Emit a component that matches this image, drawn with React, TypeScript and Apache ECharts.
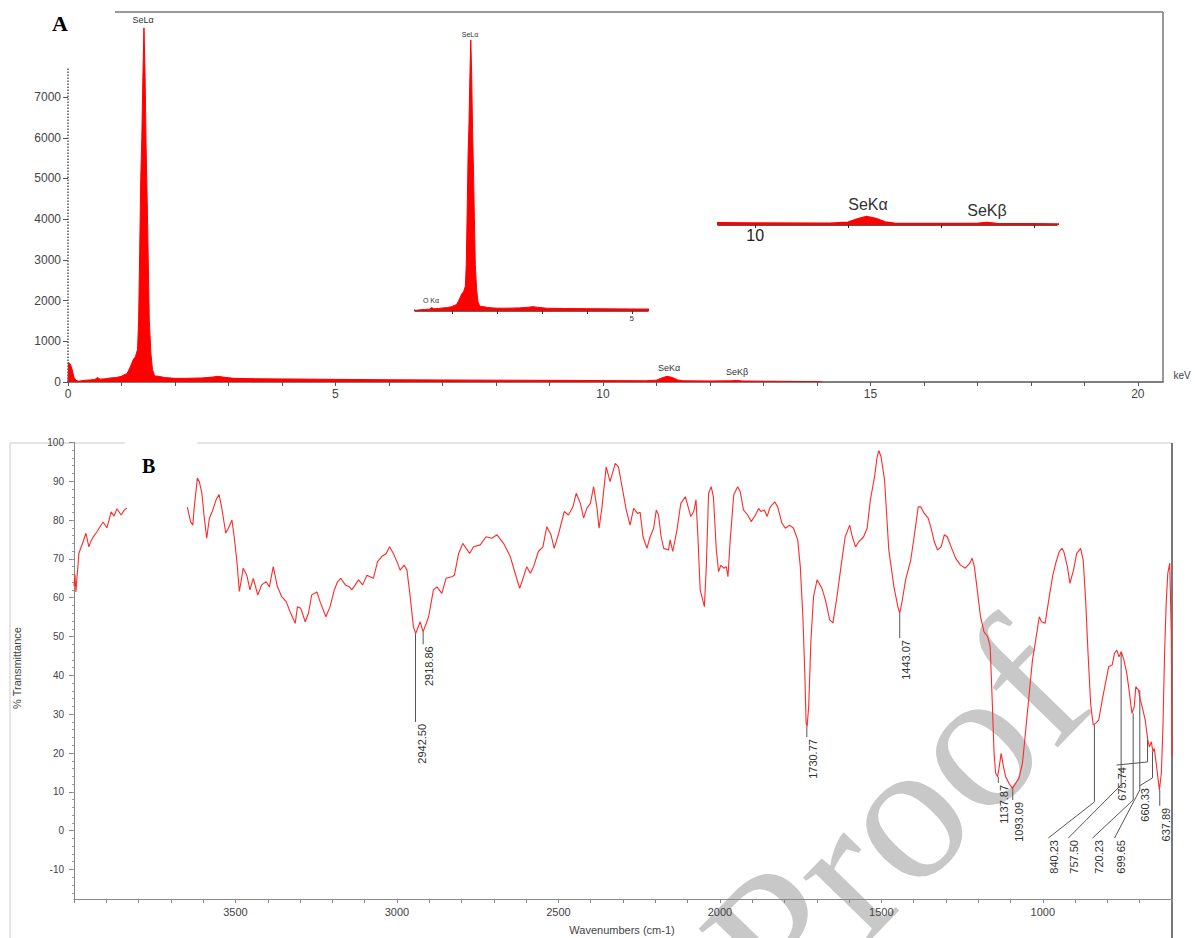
import React, { useEffect, useRef } from "react";
import * as echarts from "echarts";

// ---------- Panel A: EDS spectrum ----------
const edsKeV = [
  0.0, 0.01, 0.03, 0.05, 0.08, 0.11, 0.15, 0.2, 0.3, 0.4, 0.5, 0.55, 0.6, 0.7, 0.8, 0.9, 1.0,
  1.05, 1.1, 1.14, 1.18, 1.22, 1.26, 1.3, 1.32, 1.34, 1.36, 1.38, 1.4, 1.42, 1.44, 1.46, 1.48,
  1.5, 1.52, 1.55, 1.58, 1.62, 1.7, 1.8, 2.0, 2.2, 2.5, 2.7, 2.8, 2.9, 3.1, 3.5, 4.0, 5.0, 6.0,
  7.0, 8.0, 9.0, 10.0, 10.8, 11.0, 11.1, 11.2, 11.3, 11.4, 11.5, 12.0, 12.4, 12.5, 12.6, 13.0,
  13.5, 14.0, 14.1,
];
const edsCounts = [
  0, 480, 460, 420, 300, 120, 40, 20, 40, 50, 60, 110, 70, 80, 100, 110, 140,
  180, 200, 300, 420, 550, 620, 800, 1500, 3200, 5000, 6000, 7500, 8700, 7600, 5800, 4500,
  3000, 1500, 700, 300, 150, 140, 110, 90, 90, 100, 120, 140, 120, 90, 80, 75, 65, 55,
  50, 45, 40, 35, 30, 45, 100, 140, 110, 50, 30, 25, 30, 40, 25, 20,
  15, 10, 0,
];
const edsXTicks = [0, 1, 2, 3, 4, 5, 6, 7, 8, 9, 10, 11, 12, 13, 14, 15, 16, 17, 18, 19, 20];
const edsXLabels = [0, 5, 10, 15, 20];
const edsYLabels = [0, 1000, 2000, 3000, 4000, 5000, 6000, 7000];
const inset1Ticks = [1, 2, 3, 4, 5];
const inset1Labels = [5];
const inset2Ticks = [10, 11, 12, 13];
const inset2Labels = [10];

// ---------- Panel B: FTIR spectrum ----------
const ftirWn = [
  4000, 3997, 3994, 3991, 3987, 3985, 3978, 3972, 3963, 3954, 3948, 3941, 3929, 3920, 3910, 3898,
  3885, 3876, 3867, 3854, 3845, 3836, 3740,
  3649, 3639, 3632, 3628, 3618, 3612, 3604, 3597, 3589, 3581, 3572, 3560, 3551, 3543, 3530, 3521,
  3511, 3504, 3496, 3488, 3476, 3465, 3455, 3445, 3431, 3419, 3405, 3395, 3383, 3370, 3357, 3343,
  3331, 3315, 3308, 3298, 3284, 3274, 3264, 3248, 3238, 3220, 3207, 3194, 3184, 3174, 3160, 3147,
  3140, 3129, 3119, 3106, 3093, 3083, 3073, 3060, 3047, 3033, 3023, 3011, 3000, 2990, 2978, 2969,
  2959, 2949, 2942, 2928, 2919, 2902, 2887, 2876, 2861, 2848, 2830, 2822, 2809, 2796, 2775, 2763,
  2742, 2724, 2706, 2690, 2670, 2649, 2634, 2620, 2608, 2598, 2587, 2577, 2562, 2548, 2536, 2523,
  2513, 2499, 2482, 2469, 2455, 2445, 2432, 2422, 2412, 2401, 2391, 2381, 2374, 2365, 2352, 2340,
  2324, 2314, 2303, 2290, 2278, 2267, 2255, 2247, 2238, 2226, 2216, 2205, 2197, 2190, 2182, 2174,
  2159, 2154, 2146, 2133, 2121, 2107, 2100, 2090, 2081, 2074, 2068, 2061, 2048, 2042, 2035, 2027,
  2020, 2011, 2004, 1997, 1988, 1980, 1975, 1968, 1957, 1945, 1937, 1927, 1914, 1903, 1890, 1880,
  1873, 1862, 1854, 1844, 1830, 1821, 1808, 1797, 1784, 1772, 1759, 1751, 1743, 1737, 1733, 1730,
  1725, 1718, 1710, 1699, 1684, 1673, 1660, 1650, 1637, 1625, 1612, 1598, 1590, 1580, 1570, 1555,
  1544, 1534, 1521, 1513, 1508, 1501, 1490, 1477, 1461, 1449, 1443, 1435, 1425, 1409, 1397, 1386,
  1378, 1367, 1355, 1346, 1336, 1326, 1315, 1305, 1296, 1284, 1270, 1255, 1240, 1226, 1219, 1212,
  1203, 1193, 1182, 1171, 1163, 1156, 1151, 1146, 1140, 1135, 1129, 1122, 1115, 1105, 1094, 1084,
  1074, 1063, 1053, 1042, 1032, 1022, 1011, 1004, 993, 980, 970, 960, 949, 941, 935, 924,
  916, 905, 895, 883, 875, 867, 860, 852, 844, 836, 827, 816, 806, 796, 785, 778,
  771, 764, 757, 749, 740, 733, 724, 717, 712, 704, 698, 690, 683, 675, 670, 664,
  659, 655, 649, 644, 639, 633, 628, 623, 618, 613, 607, 602, 600,
];
const ftirT = [
  63, 66, 61.5, 65, 69, 71.4, 73, 74.4, 76.6, 73.1, 74.5, 75.6, 77, 78.2, 79.5, 78,
  82.1, 81, 82.9, 81.3, 82.5, 83.1, null,
  83.3, 79.6, 78.7, 83.0, 90.8, 89.9, 86.9, 80.9, 75.3, 80.4, 82.2, 85.2, 86.6, 83.4, 76.6, 78.1,
  80.0, 75.7, 69.7, 61.6, 67.6, 65.8, 62.0, 65.0, 60.7, 63.3, 64.1, 62.8, 68.0, 62.8, 60.3, 59.0,
  56.4, 53.4, 57.7, 57.3, 53.8, 56.0, 60.7, 61.5, 59.0, 55.1, 57.7, 62.0, 64.1, 65.0, 63.3, 62.8,
  62.0, 63.3, 64.6, 63.3, 65.8, 65.4, 65.0, 69.3, 70.6, 71.4, 73.1, 71.4, 69.3, 67.1, 68.4, 67.1,
  60.3, 52.5, 50.8, 53.8, 51.2, 55.1, 62.0, 62.8, 61.1, 65.0, 65.4, 65.8, 71.4, 74.0, 71.4, 73.1,
  73.6, 75.7, 75.3, 76.2, 74.0, 70.6, 66.3, 62.4, 65.4, 68.0, 66.3, 68.0, 71.9, 73.1, 78.3, 76.2,
  72.7, 76.6, 82.2, 81.3, 83.4, 86.9, 84.3, 80.5, 83.0, 84.3, 88.6, 83.4, 77.9, 83.4, 93.7, 89.9,
  94.6, 93.7, 88.6, 82.6, 78.7, 83.0, 81.7, 82.0, 75.7, 72.7, 75.7, 77.9, 82.6, 81.3, 75.7, 72.7,
  72.3, 74.9, 71.9, 77.4, 84.3, 86.0, 83.9, 80.9, 82.2, 85.2, 75.7, 62.0, 57.7, 68.0, 86.9, 88.6,
  86.0, 72.3, 66.7, 68.4, 67.6, 68.0, 65.4, 74.9, 86.5, 88.6, 87.3, 82.6, 81.3, 79.6, 81.3, 83.0,
  82.2, 82.6, 80.9, 83.4, 84.7, 83.4, 79.2, 77.9, 78.7, 77.9, 74.9, 68.0, 55.1, 40.5, 27.7, 26.8,
  31.9, 49.1, 60.3, 64.6, 62.4, 59.4, 54.3, 53.5, 60.5, 68.0, 75.7, 78.7, 75.7, 73.1, 74.4, 75.7,
  77.9, 85.2, 91.2, 96.3, 97.9, 96.3, 90.3, 72.3, 62.8, 57.7, 56.0, 59.4, 64.6, 69.7, 76.6, 83.4,
  83.4, 81.7, 80.5, 77.9, 74.4, 72.3, 73.1, 76.2, 75.7, 73.1, 70.2, 68.4, 67.6, 68.9, 70.2, 68.0,
  62.0, 55.1, 51.2, 50.0, 47.4, 31.9, 19.9, 14.8, 13.9, 16.5, 19.9, 16.5, 13.9, 12.2, 10.9, 12.2,
  13.5, 17.4, 25.9, 35.4, 44.0, 49.1, 55.1, 53.8, 53.4, 60.3, 65.4, 68.9, 71.9, 72.7, 71.9, 68.0,
  63.7, 67.1, 71.4, 72.7, 69.7, 58.6, 45.7, 32.8, 27.2, 27.7, 28.5, 33.7, 38.0, 42.2, 42.7, 45.7,
  46.5, 44.8, 46.1, 44.0, 40.5, 36.2, 30.2, 31.9, 37.1, 36.2, 33.7, 31.1, 28.5, 23.4, 21.6, 22.9,
  20.3, 21.2, 17.4, 13.9, 10.5, 14.8, 26.8, 45.7, 58.6, 66.3, 68.9, 50.0, 19.1,
];
const ftirXLabels = [3500, 3000, 2500, 2000, 1500, 1000];
const ftirYLabels = [-10, 0, 10, 20, 30, 40, 50, 60, 70, 80, 90, 100];

// peak annotations (data units)
const peakLabels = ["2942.50", "2918.86", "1730.77", "1443.07", "1137.87", "1093.09", "840.23", "757.50", "720.23", "699.65", "675.74", "660.33", "637.89"];
const peakWn = [2942.5, 2918.86, 1730.77, 1443.07, 1137.87, 1093.09, 840.23, 757.5, 720.23, 699.65, 675.74, 660.33, 637.89];
const peakT = [50.8, 51.2, 26.8, 56.0, 13.9, 10.9, 27.2, 46.1, 30.2, 36.2, 23.4, 20.3, 10.5];
const bendT = [28.0, 48.0, 24.1, 49.6, 12.3, 7.9, 7.4, 11.8, 7.9, 10.5, 17.7, 13.6, 6.4];
const leaderWn = [2942.5, 2918.86, 1730.77, 1443.07, 1137.87, 1093.09, 983, 921, 846, 778, 772, 701, 637.89];
const leaderT = [28.0, 48.0, 24.1, 49.6, 12.3, 7.9, -1.9, -1.9, -1.9, -1.9, 16.9, 11.5, 6.4];

const SANS = "Liberation Sans, Arial, sans-serif";
const SERIF = "Liberation Serif, Times New Roman, serif";
const plain = (v: number) => String(v);

export default function App() {
  const ref = useRef<HTMLDivElement>(null);

  useEffect(() => {
    if (!ref.current) return;
    const chart = echarts.init(ref.current, null, { renderer: "svg" });

    const edsData = edsKeV.map((k, i) => [k, edsCounts[i]]);
    const ftirData = ftirWn.map((w, i) => [w, ftirT[i]]);
    const annData = peakWn.map((w, i) => [w, peakT[i], bendT[i], leaderWn[i], leaderT[i]]);
    const minorY: number[] = [];
    for (let v = -16; v <= 100; v += 2) minorY.push(v);

    const labelGray = "#444";

    const option: any = {
      animation: false,
      backgroundColor: "#fff",
      grid: [
        { left: 68, top: 12, width: 1095, height: 370 },
        { left: 415, top: 30, width: 233, height: 281 },
        { left: 718, top: 195, width: 339, height: 30 },
        { left: 74, top: 442.4, width: 1098, height: 456.6 },
      ],
      xAxis: [
        {
          gridIndex: 0, type: "value", min: 0, max: 20.47,
          axisLine: { onZero: false, lineStyle: { color: "#555", width: 1.5 } },
          axisTick: { customValues: edsXTicks, length: 4, lineStyle: { color: "#555" } },
          axisLabel: { customValues: edsXLabels, formatter: plain, fontSize: 12, color: labelGray, margin: 6, fontFamily: SANS },
          splitLine: { show: false },
        },
        {
          gridIndex: 1, type: "value", min: 0.18, max: 5.36,
          axisLine: { onZero: false, lineStyle: { color: "#333", width: 1.5 } },
          axisTick: { customValues: inset1Ticks, length: 3, lineStyle: { color: "#333" } },
          axisLabel: { customValues: inset1Labels, formatter: plain, fontSize: 8, color: "#333", margin: 3, fontFamily: SANS },
          splitLine: { show: false },
        },
        {
          gridIndex: 2, type: "value", min: 9.6, max: 13.25,
          axisLine: { onZero: false, lineStyle: { color: "#222", width: 1.5 } },
          axisTick: { customValues: inset2Ticks, length: 3, lineStyle: { color: "#222" } },
          axisLabel: { customValues: inset2Labels, formatter: plain, fontSize: 16, color: "#222", margin: 2, fontFamily: SANS },
          splitLine: { show: false },
        },
        {
          gridIndex: 3, type: "value", inverse: true, min: 600, max: 4000, interval: 100,
          axisLine: { onZero: false, lineStyle: { color: "#888" } },
          axisTick: { length: 4, lineStyle: { color: "#888" } },
          axisLabel: { customValues: ftirXLabels, formatter: plain, fontSize: 11, color: labelGray, margin: 7, fontFamily: SANS },
          splitLine: { show: false },
        },
      ],
      yAxis: [
        {
          gridIndex: 0, type: "value", min: 0, max: 9090,
          axisLine: { show: false, onZero: false },
          axisTick: { show: true, customValues: edsYLabels, length: 5, lineStyle: { color: "#555" } },
          axisLabel: { customValues: edsYLabels, formatter: plain, fontSize: 12, color: labelGray, margin: 7, fontFamily: SANS },
          splitLine: { show: false },
        },
        { gridIndex: 1, type: "value", min: 0, max: 9020, show: false },
        { gridIndex: 2, type: "value", min: 0, max: 500, show: false },
        {
          gridIndex: 3, type: "value", min: -17.6, max: 100, position: "left",
          axisLine: { onZero: false, lineStyle: { color: "#888" } },
          axisTick: { customValues: ftirYLabels, length: 5, lineStyle: { color: "#888" } },
          axisLabel: { customValues: ftirYLabels, formatter: plain, fontSize: 10, color: labelGray, margin: 10, fontFamily: SANS },
          splitLine: { show: false },
        },
        {
          gridIndex: 3, type: "value", min: -17.6, max: 100, position: "left", offset: 0,
          axisLine: { show: false, onZero: false },
          axisTick: { customValues: minorY, length: 2, lineStyle: { color: "#999" } },
          axisLabel: { show: false },
          splitLine: { show: false },
        },
      ],
      series: [
        {
          type: "line", xAxisIndex: 0, yAxisIndex: 0, data: edsData, symbol: "none",
          lineStyle: { color: "#ff0000", width: 1 }, areaStyle: { color: "#ff0000", opacity: 1 },
          markLine: {
            silent: true, symbol: "none", label: { show: false },
            lineStyle: { type: "dotted", color: "#555", width: 1.5 },
            data: [[{ coord: [0, 0] }, { coord: [0, 7700] }]],
          },
        },
        {
          type: "line", xAxisIndex: 1, yAxisIndex: 1, data: edsData, symbol: "none",
          lineStyle: { color: "#ff0000", width: 1 }, areaStyle: { color: "#ff0000", opacity: 1 },
        },
        {
          type: "line", xAxisIndex: 2, yAxisIndex: 2, data: edsData, symbol: "none",
          lineStyle: { color: "#ff0000", width: 1.5 }, areaStyle: { color: "#ff0000", opacity: 1 },
        },
        {
          type: "line", xAxisIndex: 3, yAxisIndex: 3, data: ftirData, symbol: "none",
          connectNulls: false, lineStyle: { color: "#ff2a2a", width: 1.1 },
        },
        {
          type: "custom", xAxisIndex: 3, yAxisIndex: 3, data: annData, clip: false,
          renderItem: (params: any, api: any) => {
            const i = params.dataIndex;
            const p0 = api.coord([api.value(0), api.value(1)]);
            const p1 = api.coord([api.value(0), api.value(2)]);
            const p2 = api.coord([api.value(3), api.value(4)]);
            return {
              type: "group",
              children: [
                { type: "polyline", shape: { points: [p0, p1, p2] }, style: { stroke: "#555", fill: null, lineWidth: 1 } },
                {
                  type: "text", x: p2[0] + 6, y: p2[1] + 2, rotation: Math.PI / 2,
                  style: { text: peakLabels[i], fontSize: 11, fontFamily: SANS, fill: "#333", align: "right", verticalAlign: "middle" },
                },
              ],
            };
          },
        },
      ],
      graphic: [
        // watermark
        {
          type: "text", x: 895, y: 818, rotation: 0.8, z: -10,
          style: { text: "Proof", font: "200px " + SERIF, fill: "#c8c8c8", align: "center", verticalAlign: "middle" },
        },
        // panel A frame
        { type: "line", shape: { x1: 115, y1: 12, x2: 1163, y2: 12 }, style: { stroke: "#777", lineWidth: 1.5 } },
        { type: "line", shape: { x1: 1163, y1: 12, x2: 1163, y2: 382 }, style: { stroke: "#777", lineWidth: 1.5 } },
        { type: "text", x: 52, y: 12, style: { text: "A", font: "bold 22px " + SERIF, fill: "#000" } },
        { type: "text", x: 143, y: 20, style: { text: "SeLα", fontSize: 9, fontFamily: SANS, fill: "#333", align: "center", verticalAlign: "middle" } },
        { type: "text", x: 669, y: 368, style: { text: "SeKα", fontSize: 9, fontFamily: SANS, fill: "#333", align: "center", verticalAlign: "middle" } },
        { type: "text", x: 737, y: 372, style: { text: "SeKβ", fontSize: 9, fontFamily: SANS, fill: "#333", align: "center", verticalAlign: "middle" } },
        { type: "text", x: 470, y: 34, style: { text: "SeLα", fontSize: 7, fontFamily: SANS, fill: "#333", align: "center", verticalAlign: "middle" } },
        { type: "text", x: 431, y: 300, style: { text: "O Kα", fontSize: 7, fontFamily: SANS, fill: "#333", align: "center", verticalAlign: "middle" } },
        { type: "text", x: 868, y: 204, style: { text: "SeKα", fontSize: 16, fontFamily: SANS, fill: "#333", align: "center", verticalAlign: "middle" } },
        { type: "text", x: 987, y: 210, style: { text: "SeKβ", fontSize: 16, fontFamily: SANS, fill: "#333", align: "center", verticalAlign: "middle" } },
        { type: "text", x: 1182, y: 375, style: { text: "keV", fontSize: 10, fontFamily: SANS, fill: "#444", align: "center", verticalAlign: "middle" } },
        // panel B frame
        { type: "line", shape: { x1: 10, y1: 443, x2: 125, y2: 443 }, style: { stroke: "#ccc", lineWidth: 1 } },
        { type: "line", shape: { x1: 197, y1: 443, x2: 1172, y2: 443 }, style: { stroke: "#ccc", lineWidth: 1 } },
        { type: "line", shape: { x1: 10, y1: 443, x2: 10, y2: 938 }, style: { stroke: "#ccc", lineWidth: 1 } },
        { type: "line", shape: { x1: 1172, y1: 443, x2: 1172, y2: 938 }, style: { stroke: "#777", lineWidth: 2 } },
        { type: "text", x: 142, y: 456, style: { text: "B", font: "bold 20px " + SERIF, fill: "#000" } },
        { type: "text", x: 17, y: 668, rotation: Math.PI / 2, style: { text: "% Transmittance", fontSize: 11, fontFamily: SANS, fill: "#444", align: "center", verticalAlign: "middle" } },
        { type: "text", x: 622, y: 930, style: { text: "Wavenumbers (cm-1)", fontSize: 11, fontFamily: SANS, fill: "#444", align: "center", verticalAlign: "middle" } },
      ],
    };

    chart.setOption(option);
    return () => chart.dispose();
  }, []);

  return (
    <div
      ref={ref}
      style={{ position: "fixed", left: 0, top: 0, width: 1195, height: 938, background: "#fff" }}
    />
  );
}
